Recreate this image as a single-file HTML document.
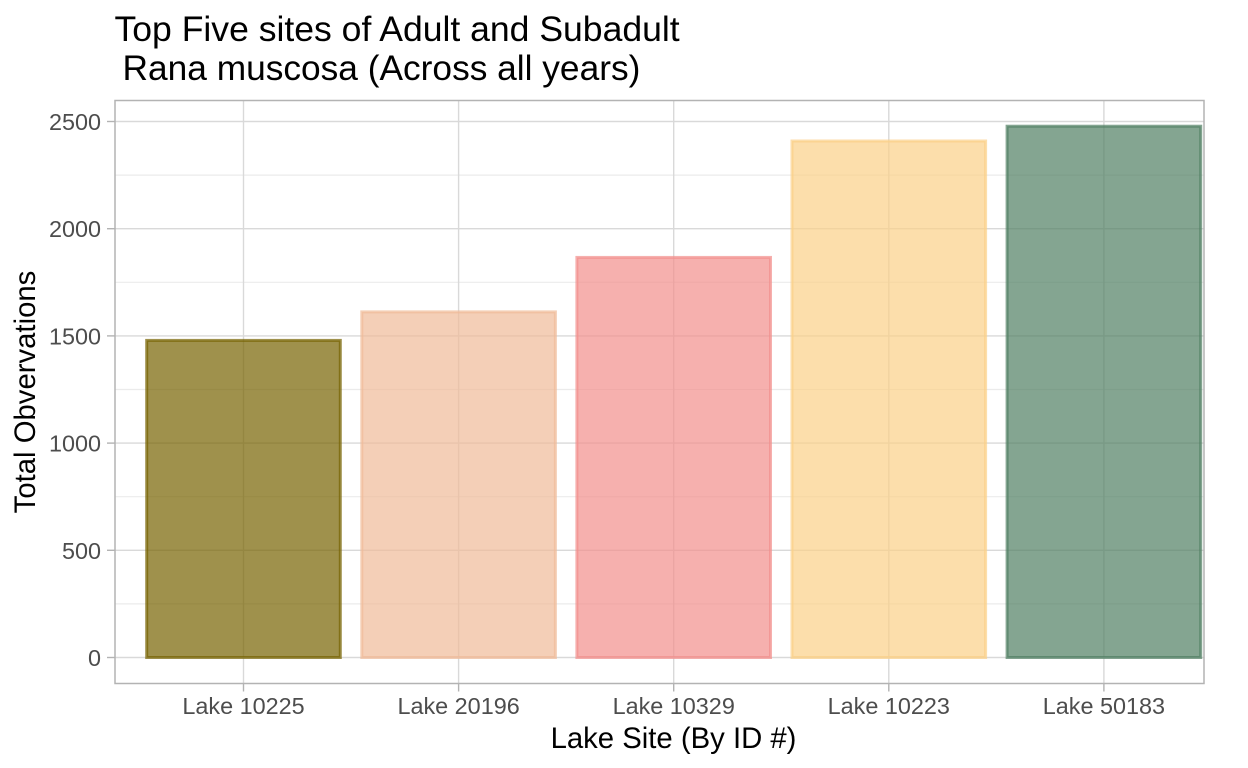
<!DOCTYPE html>
<html>
<head>
<meta charset="utf-8">
<style>
html,body{margin:0;padding:0;background:#fff;}
svg{display:block;font-family:"Liberation Sans",sans-serif;}
</style>
</head>
<body>
<svg id="chart" xmlns="http://www.w3.org/2000/svg" width="1248" height="768" viewBox="0 0 1248 768">
  <rect x="0" y="0" width="1248" height="768" fill="#ffffff"/>
  <g id="grid"></g>
  <g id="bars"></g>
  <rect x="115" y="100.5" width="1089" height="583" fill="none" stroke="#b3b3b3" stroke-width="1.5"/>
  <g id="ticks"></g>
  <text x="114.5" y="41" font-size="35.55" fill="#000000">Top Five sites of Adult and Subadult</text>
  <text x="122.5" y="80" font-size="35.3" fill="#000000">Rana muscosa (Across all years)</text>
  <text x="673.5" y="748" font-size="29.3" text-anchor="middle" fill="#000000">Lake Site (By ID #)</text>
  <text transform="translate(35,392) rotate(-90)" font-size="29.3" text-anchor="middle" fill="#000000">Total Obvervations</text>
</svg>
<script>
const categories = ["Lake 10225", "Lake 20196", "Lake 10329", "Lake 10223", "Lake 50183"];
const observations = [1479, 1612, 1866, 2409, 2478];
const barColors = ["#766200", "#f0bb98", "#f28e8b", "#fbd088", "#507f62"];
const yTickValues = [0, 500, 1000, 1500, 2000, 2500];
const yMinorValues = [250, 750, 1250, 1750, 2250];

const NS = "http://www.w3.org/2000/svg";
const yZero = 657.5, yScale = 536 / 2500;
const xFirst = 243.5, xStep = 215.1, barWidth = 193.6;
const panelLeft = 115, panelRight = 1204, panelTop = 100.5, panelBottom = 683.5;
function yPos(v) { return yZero - v * yScale; }
function xPos(i) { return xFirst + i * xStep; }
function make(tag, attrs) {
  const el = document.createElementNS(NS, tag);
  for (const k in attrs) el.setAttribute(k, attrs[k]);
  return el;
}
const grid = document.getElementById("grid");
const bars = document.getElementById("bars");
const ticks = document.getElementById("ticks");

yMinorValues.forEach(function (v) {
  const l = make("line", {x1: panelLeft, x2: panelRight, y1: yPos(v), y2: yPos(v), stroke: "#ebebeb", "stroke-width": 1.2});
  
  
  grid.appendChild(l);
});
yTickValues.forEach(function (v) {
  const l = make("line", {x1: panelLeft, x2: panelRight, y1: yPos(v), y2: yPos(v), stroke: "#d9d9d9", "stroke-width": 1.4});
  
  
  grid.appendChild(l);

  const t = make("line", {x1: panelLeft - 8, x2: panelLeft, y1: yPos(v), y2: yPos(v), stroke: "#b3b3b3", "stroke-width": 1.4});
  
  
  ticks.appendChild(t);

  const lab = make("text", {x: panelLeft - 14, y: yPos(v) + 8.5, "font-size": 23.4, "text-anchor": "end", fill: "#4d4d4d"});
  
  
  lab.textContent = v;
  ticks.appendChild(lab);
});
categories.forEach(function (c, i) {
  const x = xPos(i);
  const l = make("line", {x1: x, x2: x, y1: panelTop, y2: panelBottom, stroke: "#d9d9d9", "stroke-width": 1.4});
  
  
  grid.appendChild(l);

  const r = make("rect", {
    x: x - barWidth / 2, y: yPos(observations[i]),
    width: barWidth, height: yZero - yPos(observations[i]),
    fill: barColors[i], "fill-opacity": 0.7,
    stroke: barColors[i], "stroke-opacity": 0.7, "stroke-width": 3
  });
  
  
  bars.appendChild(r);

  const t = make("line", {x1: x, x2: x, y1: panelBottom, y2: panelBottom + 8, stroke: "#b3b3b3", "stroke-width": 1.4});
  
  
  ticks.appendChild(t);

  const lab = make("text", {x: x, y: 714, "font-size": 23.4, "text-anchor": "middle", fill: "#4d4d4d"});
  
  
  lab.textContent = c;
  ticks.appendChild(lab);
});
</script>
</body>
</html>
